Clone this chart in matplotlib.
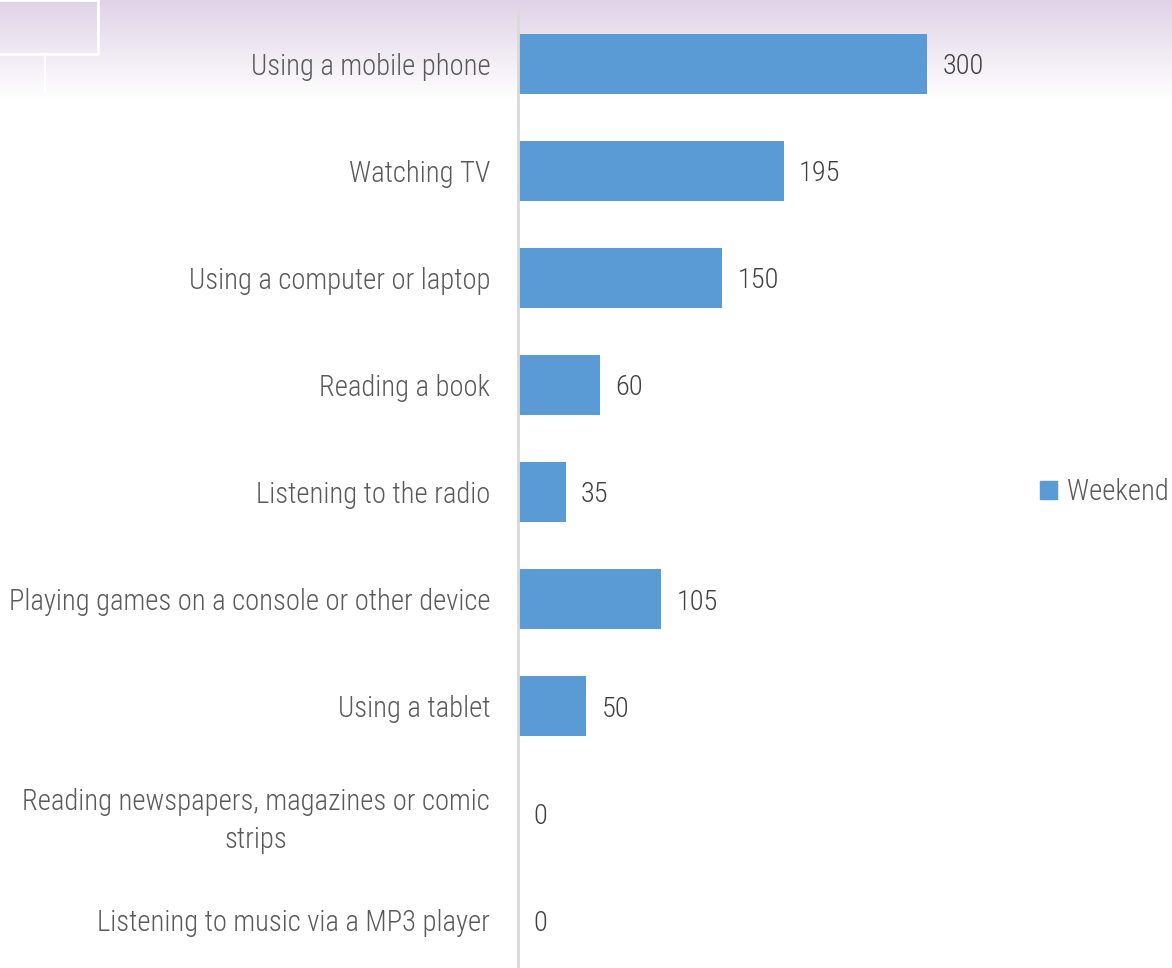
import matplotlib.pyplot as plt
import numpy as np
from matplotlib.patches import Patch

categories = [
    "Using a mobile phone",
    "Watching TV",
    "Using a computer or laptop",
    "Reading a book",
    "Listening to the radio",
    "Playing games on a console or other device",
    "Using a tablet",
    "Reading newspapers, magazines or comic\nstrips",
    "Listening to music via a MP3 player",
]
weekend = [300, 195, 150, 60, 35, 105, 50, 0, 0]
series_name = "Weekend"

BAR_COLOR = "#5b9bd5"
TEXT_COLOR = "#595959"

plt.rcParams['font.family'] = ['Roboto Condensed', 'Barlow Semi Condensed', 'DejaVu Sans']
plt.rcParams['font.weight'] = 300

W, H = 1172, 968
fig = plt.figure(figsize=(W / 100, H / 100), dpi=100)
fig.patch.set_facecolor("white")

# background: purple-to-white gradient at the top, plus thin white frame decoration
bg = fig.add_axes([0, 0, 1, 1], zorder=0)
bg.set_xlim(0, W)
bg.set_ylim(H, 0)
bg.axis("off")
grad_h = 100
top = np.array([0xe0, 0xd3, 0xe7]) / 255
t = np.linspace(0, 1, grad_h)[:, None]
grad = top[None, :] * (1 - t) + np.ones(3)[None, :] * t
grad = np.repeat(grad[:, None, :], 2, axis=1)
bg.imshow(grad, extent=(0, W, grad_h, 0), aspect="auto", zorder=0)
bg.plot([-2, 98, 98, -2], [0, 0, 54, 54], color="white", lw=2, zorder=1)
bg.plot([45, 45], [55, 92], color="white", lw=1.5, zorder=1)

ax = fig.add_axes([518 / W, -6 / H, 477 / W, 964 / H], zorder=1)
ax.patch.set_alpha(0)

y = np.arange(len(categories))
bars = ax.barh(y, weekend, height=0.56, color=BAR_COLOR, label=series_name)
ax.set_ylim(len(categories) - 0.5, -0.5)
ax.set_xlim(0, 350)
vals = ax.bar_label(bars, padding=11, fontsize=20.5, color="#404040")
for v in vals:
    v.set_va("center_baseline")

ax.set_yticks(y)
ax.set_yticklabels(categories, fontsize=20.6, color=TEXT_COLOR)
for lbl in ax.get_yticklabels():
    lbl.set_multialignment("center")
    lbl.set_linespacing(1.45)
ax.tick_params(axis="y", length=0, pad=20)
ax.set_xticks([])
for s in ["top", "right", "bottom"]:
    ax.spines[s].set_visible(False)
ax.spines["left"].set_color("#d9d9d9")
ax.spines["left"].set_linewidth(2)

fig.legend(handles=[Patch(color=BAR_COLOR, label=series_name)], loc="center left",
           bbox_to_anchor=(1040 / W, 1 - 492 / H), frameon=False, fontsize=20.6,
           handlelength=0.6, handleheight=0.6, handletextpad=0.35,
           borderpad=0, borderaxespad=0, labelcolor=TEXT_COLOR)

fig.savefig("out.png", dpi=100)
